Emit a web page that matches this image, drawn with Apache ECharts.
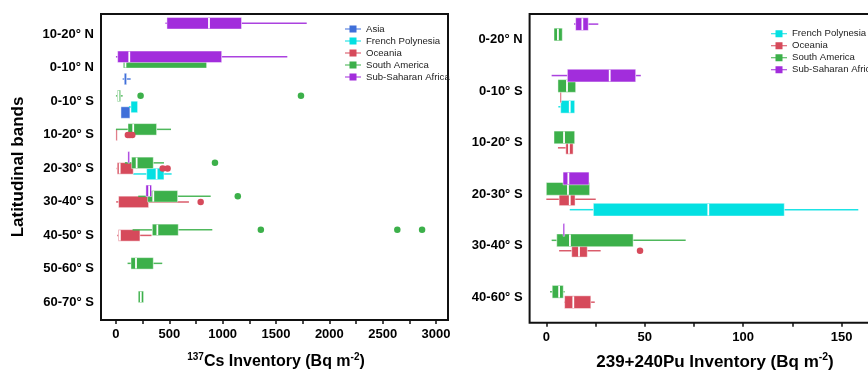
<!DOCTYPE html>
<html><head><meta charset="utf-8">
<script src="https://cdn.jsdelivr.net/npm/echarts@6/dist/echarts.min.js"></script>
<style>html,body{margin:0;padding:0;background:#fff}#c{width:868px;height:370px}</style>
</head><body><div id="c"></div>
<script>
// ---------- categories & ticks ----------
const csBands = ['10-20° N','0-10° N','0-10° S','10-20° S','20-30° S','30-40° S','40-50° S','50-60° S','60-70° S'];
const puBands = ['0-20° N','0-10° S','10-20° S','20-30° S','30-40° S','40-60° S'];
const csTickLabels = [0,500,1000,1500,2000,2500,3000];
const csMinorTicks = [0,250,500,750,1000,1250,1500,1750,2000,2250,2500,2750,3000];
const puTickLabels = [0,50,100,150];
const puMinorTicks = [0,25,50,75,100,125,150,175];

// ---------- 137Cs boxes: [bandIndex, min, Q1, median, Q3, max] (Bq m-2) ----------
const csAsia = [[1,63,78,89,100,138],[2,47,47,122,131,131]];
const csFrenchPolynesia = [[2,122,141,141,203,203],[4,162,288,381,450,522]];
const csOceania = [[3,0,0,5,12,12],[4,6,12,35,162,162],[5,2,25,33,306,684],[6,12,23,37,225,334]];
const csSouthAmerica = [[1,69,69,89,850,850],[2,0,13,25,44,63],[3,0,113,162,381,516],[4,84,147,194,350,450],
  [5,209,297,350,578,888],[6,156,341,388,584,903],[7,109,141,188,350,434],[8,209,209,233,259,259]];
const csSubSaharan = [[0,464,478,872,1177,1788],[1,0,16,125,991,1606],[4,112,112,120,128,128],[5,281,281,311,334,334]];
// outliers: [bandIndex, value]
const csOceaniaOut = [[3,112],[3,131],[3,153],[4,438],[4,484],[5,794]];
const csSouthAmericaOut = [[2,231],[2,1734],[4,928],[5,1142],[6,1358],[6,2637],[6,2869]];

// ---------- 239+240Pu boxes ----------
const puFrenchPolynesia = [[1,6.1,7.3,11.9,14.4,14.4],[3,11.9,23.9,82.3,120.9,158.5]];
const puOceania = [[1,7.0,7.0,7.3,7.6,7.6],[2,5.9,9.9,11.5,13.6,13.6],[3,0,6.5,11.9,14.6,25.1],[4,6.5,12.9,16.6,20.8,27.6],[5,9.0,9.3,13.7,22.6,24.6]];
const puSouthAmerica = [[0,3.9,3.9,5.9,8.1,8.1],[1,5.9,5.9,10.5,14.9,14.9],[2,3.9,3.9,9.0,14.4,14.4],[3,0,0,11.0,22.0,22.0],[4,2.7,5.3,12.0,44.1,70.8],[5,1.9,3.0,6.5,8.6,9.3]];
const puSubSaharan = [[0,14.1,14.9,18.3,21.3,26.4],[1,2.7,10.7,32.2,45.4,48.0],[3,8.5,8.5,11.2,21.7,21.7],[4,8.5,8.5,8.9,9.3,9.3]];
const puOceaniaOut = [[4,47.6]];

// ---------- styling ----------
const palette = {'Asia':'#3f6fd9','French Polynesia':'#04e0e2','Oceania':'#d64a5b','South America':'#3cb04a','Sub-Saharan Africa':'#a22ddc'};
const FONT = 'Liberation Sans, Arial, sans-serif';

function boxRenderer(slot, step, thick, color){
  return function(params, api){
    const yc = api.value(0) + slot*step;
    const a = api.coord([api.value(1), yc]);
    const q1 = api.coord([api.value(2), yc - thick/2]);
    const md = api.coord([api.value(3), yc]);
    const q3 = api.coord([api.value(4), yc + thick/2]);
    const b = api.coord([api.value(5), yc]);
    const top = Math.min(q1[1], q3[1]), bot = Math.max(q1[1], q3[1]);
    let x1 = q1[0], x2 = q3[0];
    if (x2 - x1 < 1.3) { const c=(x1+x2)/2; x1 = c-0.65; x2 = c+0.65; }
    const ch = [];
    if (b[0] - x2 > 0.3) ch.push({type:'line', shape:{x1:x2,y1:a[1],x2:b[0],y2:a[1]}, style:{stroke:color,lineWidth:1.5,opacity:0.9}});
    if (x1 - a[0] > 0.3) ch.push({type:'line', shape:{x1:a[0],y1:a[1],x2:x1,y2:a[1]}, style:{stroke:color,lineWidth:1.5,opacity:0.9}});
    ch.push({type:'rect', shape:{x:x1,y:top,width:x2-x1,height:bot-top}, style:{fill:color,stroke:'rgba(255,255,255,0.45)',lineWidth:1}});
    if (md[0]-x1 > 1.2 && x2-md[0] > 1.2) ch.push({type:'line', shape:{x1:md[0],y1:top+0.5,x2:md[0],y2:bot-0.5}, style:{stroke:'#fff',lineWidth:1.8}});
    return {type:'group', children: ch};
  };
}

const series = [];
function addPanel(gi, defs, step, thick){
  defs.forEach(d => {
    const color = palette[d.name];
    series.push({
      type:'custom', name:d.name, xAxisIndex:gi, yAxisIndex:gi,
      itemStyle:{color:color},
      renderItem: boxRenderer(d.slot, step, thick, color),
      data: d.box, z: 2
    });
  });
  defs.forEach(d => {
    if (!d.out || !d.out.length) return;
    const color = palette[d.name];
    series.push({
      type:'scatter', name:d.name, xAxisIndex:gi, yAxisIndex:gi,
      symbol:'circle', symbolSize:6.5, itemStyle:{color:color, opacity:1},
      data: d.out.map(o => [o[1], o[0] + d.slot*step]), z: 3, silent:true
    });
  });
}
// left panel (slots: positive = lower)
addPanel(0, [
  {name:'Asia', slot:2, box:csAsia},
  {name:'French Polynesia', slot:1, box:csFrenchPolynesia},
  {name:'Oceania', slot:0, box:csOceania, out:csOceaniaOut},
  {name:'South America', slot:-1, box:csSouthAmerica, out:csSouthAmericaOut},
  {name:'Sub-Saharan Africa', slot:-2, box:csSubSaharan}
], 0.1657, 0.343);
addPanel(1, [
  {name:'French Polynesia', slot:1.5, box:puFrenchPolynesia},
  {name:'Oceania', slot:0.5, box:puOceania, out:puOceaniaOut},
  {name:'South America', slot:-0.5, box:puSouthAmerica},
  {name:'Sub-Saharan Africa', slot:-1.5, box:puSubSaharan}
], 0.2023, 0.247);

const legendIcon = 'path://M0,3H4.5V0H11.5V3H16V4H11.5V7H4.5V4H0Z';
const legendBase = {orient:'vertical', icon:legendIcon, itemWidth:16, itemHeight:7, itemGap:0,
  textStyle:{fontSize:9.6, color:'#222', fontFamily:FONT, lineHeight:12}, selectedMode:false};

const axisLabelY = (names) => ({fontSize:13, fontWeight:'bold', color:'#000', fontFamily:FONT, margin:7,
  customValues: names.map((_, i) => i), formatter: v => names[Math.round(v)] || ''});
const axisLabelX = (vals) => ({customValues:vals, fontSize:13, fontWeight:'bold', color:'#000', fontFamily:FONT, margin:8,
  formatter: v => String(v)});

const option = {
  animation:false,
  textStyle:{fontFamily:FONT},
  grid:[
    {left:101, top:14, width:347, height:306, show:true, borderWidth:2, borderColor:'#111', outerBoundsMode:'none', containLabel:false},
    {left:529.6, top:14, width:371, height:308.7, show:true, borderWidth:2, borderColor:'#111', outerBoundsMode:'none', containLabel:false}
  ],
  xAxis:[
    {type:'value', gridIndex:0, position:'bottom', min:-140, max:3112, splitLine:{show:false},
      axisLine:{show:false, onZero:false},
      axisTick:{show:true, customValues:csMinorTicks, length:4, lineStyle:{color:'#111', width:1.5}},
      axisLabel:axisLabelX(csTickLabels)},
    {type:'value', gridIndex:1, position:'bottom', min:-8.5, max:180, splitLine:{show:false},
      axisLine:{show:false, onZero:false},
      axisTick:{show:true, customValues:puMinorTicks, length:4, lineStyle:{color:'#111', width:1.5}},
      axisLabel:axisLabelX(puTickLabels)}
  ],
  yAxis:[
    {type:'value', gridIndex:0, position:'left', inverse:true, min:-0.609, max:8.525, splitLine:{show:false},
      axisLine:{show:false, onZero:false}, axisTick:{show:false}, axisLabel:axisLabelY(csBands)},
    {type:'value', gridIndex:1, position:'left', inverse:true, min:-0.5, max:5.5, splitLine:{show:false},
      axisLine:{show:false, onZero:false}, axisTick:{show:false}, axisLabel:axisLabelY(puBands)}
  ],
  legend:[
    Object.assign({}, legendBase, {left:340, top:18, data:['Asia','French Polynesia','Oceania','South America','Sub-Saharan Africa']}),
    Object.assign({}, legendBase, {left:766, top:22.7, data:['French Polynesia','Oceania','South America','Sub-Saharan Africa']})
  ],
  graphic:[
    {type:'text', x:18.5, y:167, rotation:Math.PI/2,
      style:{text:'Latitudinal bands', font:'bold 17px '+FONT, fill:'#000', align:'center', verticalAlign:'middle'}},
    {type:'text', x:276, y:362,
      style:{text:'{s|137}{m|Cs Inventory (Bq m}{s|-2}{m|)}', align:'center', verticalAlign:'middle', fill:'#000',
        rich:{m:{fontSize:16, fontWeight:'bold', fontFamily:FONT, lineHeight:20, fill:'#000'},
              s:{fontSize:10, fontWeight:'bold', fontFamily:FONT, lineHeight:12, verticalAlign:'top', fill:'#000'}}}},
    {type:'text', x:715, y:362,
      style:{text:'{m|239+240Pu Inventory (Bq m}{s|-2}{m|)}', align:'center', verticalAlign:'middle', fill:'#000',
        rich:{m:{fontSize:17, fontWeight:'bold', fontFamily:FONT, lineHeight:21, fill:'#000'},
              s:{fontSize:10.5, fontWeight:'bold', fontFamily:FONT, lineHeight:12, verticalAlign:'top', fill:'#000'}}}}
  ],
  series: series
};
const chart = echarts.init(document.getElementById('c'), null, {renderer:'canvas'});
chart.setOption(option);
</script>
</body></html>
